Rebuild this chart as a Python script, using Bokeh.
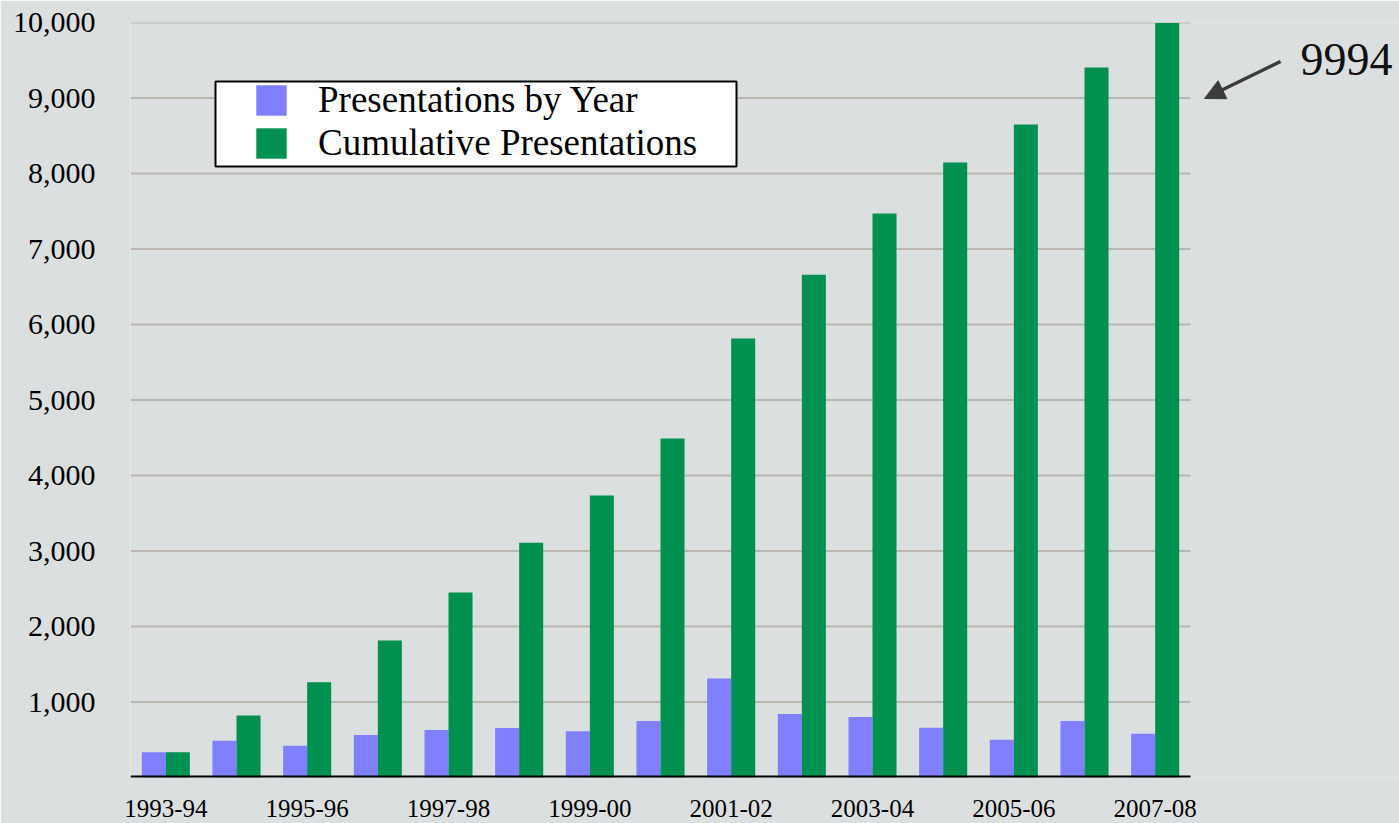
import numpy as np
from bokeh.plotting import figure
from bokeh.models import (ColumnDataSource, FixedTicker, Legend, LegendItem, BoxAnnotation,
                          Label, Arrow, NormalHead, Range1d, NumeralTickFormatter)
from bokeh.embed import file_html
from bokeh.resources import INLINE

years = ["1993-94", "1994-95", "1995-96", "1996-97", "1997-98", "1998-99", "1999-00",
         "2000-01", "2001-02", "2002-03", "2003-04", "2004-05", "2005-06", "2006-07", "2007-08"]
by_year = [335, 488, 420, 562, 628, 655, 612, 748, 1310, 840, 800, 660, 500, 748, 580]
cumulative = [335, 820, 1260, 1815, 2450, 3110, 3735, 4490, 5815, 6660, 7470, 8145, 8650, 9405, 9994]
y_ticks = [1000, 2000, 3000, 4000, 5000, 6000, 7000, 8000, 9000, 10000]
annotation_text = "9994"

BG = "#dcdfdf"
BLUE = "#7f7fff"
GREEN = "#009050"
FONT = "Liberation Serif"

n = len(years)
x = np.arange(n)
src = ColumnDataSource(dict(x=x - 0.17, x2=x + 0.17, by_year=by_year, cumulative=cumulative))

W, H = 1399, 823
LEFT, RIGHT_PLOT, TOP, BOTTOM = 130, 1190, 22, 777
px_per_cat = (RIGHT_PLOT - LEFT) / n
x_end = -0.5 + (W - LEFT) / px_per_cat   # frame reaches the right edge so the note fits inside

p = figure(width=W, height=H, x_range=Range1d(-0.5, x_end),
           y_range=Range1d(0, 10000), output_backend="svg", toolbar_location=None,
           min_border_left=LEFT, min_border_right=0, min_border_top=TOP, min_border_bottom=H - BOTTOM,
           background_fill_color=BG, border_fill_color=BG, outline_line_color=None)

# horizontal gridlines, limited to the category area
p.segment(x0=-0.5, x1=n - 0.5, y0=y_ticks, y1=y_ticks, line_color="#bab7b1", line_width=2,
          level="underlay")

r1 = p.vbar(x="x", top="by_year", width=0.34, source=src, fill_color=BLUE, line_color=None)
r2 = p.vbar(x="x2", top="cumulative", width=0.34, source=src, fill_color=GREEN, line_color=None)

# base line
p.segment(x0=[-0.5], x1=[n - 0.5], y0=[0], y1=[0], line_color="black", line_width=4)

p.xaxis.ticker = FixedTicker(ticks=[int(i) for i in x[::2]])
p.xaxis.major_label_overrides = {int(i): years[i] for i in x[::2]}
p.xaxis.axis_line_color = None
p.xaxis.major_tick_line_color = None
p.xaxis.minor_tick_line_color = None
p.xaxis.major_label_text_font = FONT
p.xaxis.major_label_text_font_size = "25px"
p.xaxis.major_label_text_color = "black"
p.xaxis.major_label_standoff = 16

p.yaxis.ticker = FixedTicker(ticks=y_ticks)
p.yaxis.formatter = NumeralTickFormatter(format="0,0")
p.yaxis.axis_line_color = None
p.yaxis.major_tick_line_color = None
p.yaxis.minor_tick_line_color = None
p.yaxis.major_label_text_font = FONT
p.yaxis.major_label_text_font_size = "30px"
p.yaxis.major_label_text_color = "black"
p.yaxis.major_label_standoff = 29

p.xgrid.visible = False
p.ygrid.visible = False

box = BoxAnnotation(left=85, right=606, bottom=611, top=696,
                    left_units="screen", right_units="screen", bottom_units="screen", top_units="screen",
                    fill_color="white", fill_alpha=1, line_color="black", line_width=2, line_alpha=1)
p.add_layout(box)

legend = Legend(items=[LegendItem(label="Presentations by Year", renderers=[r1]),
                       LegendItem(label="Cumulative Presentations", renderers=[r2])],
                location=(122, 613), padding=0, margin=0, spacing=-1,
                glyph_width=38, glyph_height=38, label_standoff=28,
                label_text_font=FONT, label_text_font_size="37px", label_text_color="black",
                border_line_color=None, background_fill_alpha=0)
p.add_layout(legend)

# annotation pointing at the last cumulative bar
def to_x(px):
    return -0.5 + (px - LEFT) / px_per_cat

def to_y(py):
    return (BOTTOM - py) / (BOTTOM - TOP) * 10000

p.add_layout(Arrow(end=NormalHead(size=20, fill_color="#3c3c3c", line_color="#3c3c3c"),
                   x_start=to_x(1280), y_start=to_y(61), x_end=to_x(1204), y_end=to_y(98),
                   line_color="#3c3c3c", line_width=3.5))
p.add_layout(Label(x=to_x(1300), y=to_y(59), text=annotation_text,
                   text_font=FONT, text_font_size="46px", text_color="#111111",
                   text_baseline="alphabetic"))

open("out.html", "w").write(file_html(p, INLINE))
